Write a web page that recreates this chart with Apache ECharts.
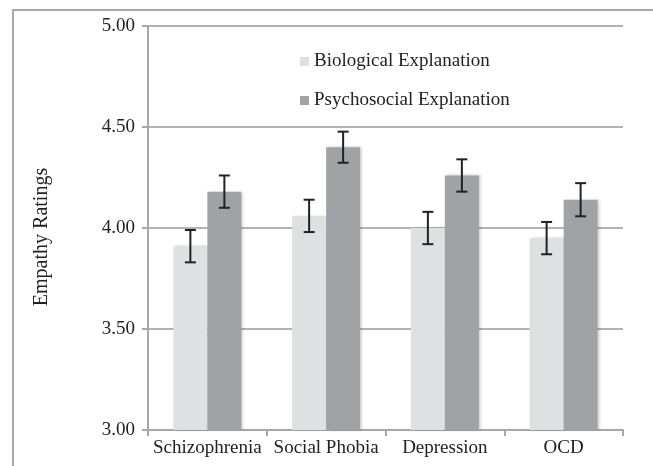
<!DOCTYPE html>
<html>
<head>
<meta charset="utf-8">
<script src="https://cdn.jsdelivr.net/npm/echarts@6/dist/echarts.min.js"></script>
<style>
html, body { margin: 0; padding: 0; background: #fff; }
#chart { width: 653px; height: 466px; }
</style>
</head>
<body>
<div id="chart"></div>
<script>
// categories and values
const categories = ['Schizophrenia', 'Social Phobia', 'Depression', 'OCD'];
const biological = [3.91, 4.06, 4.00, 3.95];
const psychosocial = [4.18, 4.40, 4.26, 4.14];
const biologicalErr = [0.08, 0.08, 0.08, 0.08];
const psychosocialErr = [0.08, 0.077, 0.08, 0.082];
const yTicks = [3.0, 3.5, 4.0, 4.5, 5.0];

const serif = 'Liberation Serif';
const barW = 34;

let chart = echarts.init(document.getElementById('chart'));

// error bar drawn through the axes, shifted to the bar's centre
const errorSeries = (name, values, errs, shift) => ({
	name: name + ' err',
	type: 'custom',
	z: 10,
	silent: true,
	data: values.map((v, i) => [i, v, errs[i]]),
	renderItem: function (params, api) {
		let hi = api.coord([api.value(0), api.value(1) + api.value(2)]);
		let lo = api.coord([api.value(0), api.value(1) - api.value(2)]);
		let x = hi[0] + shift;
		let cap = 5.5;
		let style = { stroke: '#222', lineWidth: 2 };
		return {
			type: 'group',
			children: [
				{ type: 'line', shape: { x1: x, y1: hi[1], x2: x, y2: lo[1] }, style: style },
				{ type: 'line', shape: { x1: x - cap, y1: hi[1], x2: x + cap, y2: hi[1] }, style: style },
				{ type: 'line', shape: { x1: x - cap, y1: lo[1], x2: x + cap, y2: lo[1] }, style: style },
			],
		};
	},
});

let option = {
	animation: false,
	backgroundColor: '#fff',
	graphic: [
		{
			type: 'rect',
			shape: { x: 13, y: 10, width: 660, height: 470 },
			style: { fill: 'none', stroke: '#a8a8a8', lineWidth: 2 },
			z: -1,
		},
	],
	legend: {
		orient: 'vertical',
		left: 295,
		top: 47,
		itemWidth: 9,
		itemHeight: 9,
		itemGap: 20,
		icon: 'rect',
		data: ['Biological Explanation', 'Psychosocial Explanation'],
		textStyle: { fontFamily: serif, fontSize: 19, color: '#222', lineHeight: 19 },
	},
	grid: { left: 148, right: 30, top: 26, bottom: 36 },
	xAxis: {
		type: 'category',
		data: categories,
		axisLine: { lineStyle: { color: '#a8a8a8', width: 2 } },
		axisTick: { show: true, length: 6, lineStyle: { color: '#a8a8a8', width: 2 } },
		axisLabel: { fontFamily: serif, fontSize: 19, color: '#222', margin: 9, interval: 0 },
	},
	yAxis: {
		type: 'value',
		min: yTicks[0],
		max: yTicks[yTicks.length - 1],
		interval: 0.5,
		name: 'Empathy Ratings',
		nameLocation: 'middle',
		nameGap: 96,
		nameTextStyle: { fontFamily: serif, fontSize: 20, color: '#222', padding: [0, 18, 0, 0] },
		axisLine: { show: true, lineStyle: { color: '#a8a8a8', width: 2 } },
		axisTick: { show: true, length: 6, lineStyle: { color: '#a8a8a8', width: 2 } },
		axisLabel: {
			fontFamily: serif,
			fontSize: 19,
			color: '#222',
			margin: 13,
			formatter: v => v.toFixed(2),
		},
		splitLine: { show: true, lineStyle: { color: '#b3b3b3', width: 2 } },
	},
	series: [
		{
			name: 'Biological Explanation',
			type: 'bar',
			barWidth: barW,
			barGap: 0,
			itemStyle: {
				color: '#dfe0e2',
				shadowColor: 'rgba(0,0,0,0.2)',
				shadowBlur: 3,
				shadowOffsetX: 2,
			},
			data: biological,
		},
		{
			name: 'Psychosocial Explanation',
			type: 'bar',
			barWidth: barW,
			barGap: 0,
			itemStyle: {
				color: '#a1a2a6',
				shadowColor: 'rgba(0,0,0,0.2)',
				shadowBlur: 3,
				shadowOffsetX: 2,
			},
			data: psychosocial,
		},
		errorSeries('Biological Explanation', biological, biologicalErr, -barW / 2),
		errorSeries('Psychosocial Explanation', psychosocial, psychosocialErr, barW / 2),
	],
};

chart.setOption(option);
</script>
</body>
</html>
